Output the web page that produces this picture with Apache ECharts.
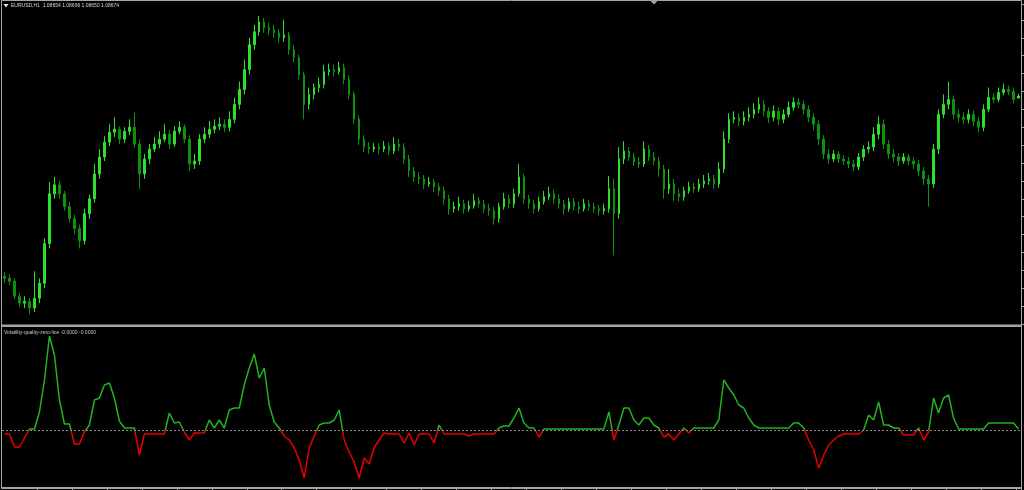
<!DOCTYPE html>
<html>
<head>
<meta charset="utf-8">
<script src="https://cdn.jsdelivr.net/npm/echarts@6/dist/echarts.min.js"></script>
<style>
html,body{margin:0;padding:0;background:#000;}
#c{width:1024px;height:490px;}
</style>
</head>
<body>
<div id="c"></div>
<script>
const symbolName = 'EURUSD,H1';
const indicatorName = 'Volatility-quality-zero-line';
const indicatorValuesText = '-0.0000 -0.0000';

const open = [
1.0686,1.0684,1.0681,1.0666,1.0659,1.0661,1.0654,1.0664,1.0679,1.0719,
1.0769,1.0778,1.0769,1.0756,1.0744,1.0734,1.0722,1.0749,1.0764,1.0789,
1.0806,1.0821,1.0831,1.0834,1.0824,1.0832,1.0836,1.0819,1.0789,1.0804,
1.0814,1.0819,1.0824,1.0829,1.0819,1.0832,1.0836,1.0824,1.0799,1.0802,
1.0824,1.0829,1.0834,1.0837,1.0839,1.0836,1.0844,1.0859,1.0874,1.0894,
1.0919,1.0932,1.0942,1.0936,1.0934,1.0931,1.0926,1.0929,1.0914,1.0906,
1.0889,1.0859,1.0869,1.0876,1.0879,1.0892,1.0894,1.0892,1.0896,1.0884,
1.0869,1.0844,1.0824,1.0816,1.0814,1.0816,1.0814,1.0817,1.0812,1.0819,
1.0816,1.0804,1.0792,1.0786,1.0784,1.0779,1.0781,1.0776,1.0772,1.0764,
1.0754,1.0756,1.0759,1.0754,1.0757,1.0762,1.0759,1.0754,1.0752,1.0744,
1.0756,1.0764,1.0759,1.0769,1.0786,1.0764,1.0759,1.0754,1.0761,1.0766,
1.0769,1.0764,1.0759,1.0754,1.0761,1.0756,1.0754,1.0759,1.0756,1.0754,
1.0752,1.0754,1.0774,1.0749,1.0804,1.0812,1.0806,1.0801,1.0799,1.0814,
1.0806,1.0802,1.0794,1.0774,1.0779,1.0769,1.0766,1.0772,1.0776,1.0774,
1.0779,1.0782,1.0784,1.0779,1.0794,1.0824,1.0844,1.0846,1.0842,1.0846,
1.0849,1.0854,1.0859,1.0852,1.0846,1.0852,1.0844,1.0849,1.0856,1.0861,
1.0859,1.0854,1.0846,1.0839,1.0824,1.0809,1.0804,1.0809,1.0804,1.0802,
1.0799,1.0796,1.0806,1.0814,1.0816,1.0829,1.0839,1.0819,1.0809,1.0806,
1.0802,1.0806,1.0802,1.0799,1.0792,1.0784,1.0779,1.0814,1.0849,1.0859,
1.0864,1.0849,1.0846,1.0844,1.0849,1.0842,1.0836,1.0854,1.0866,1.0864,
1.0871,1.0874,1.0872,1.08654];

const close = [
1.0684,1.0681,1.0666,1.0659,1.0661,1.0654,1.0664,1.0679,1.0719,1.0769,
1.0778,1.0769,1.0756,1.0744,1.0734,1.0722,1.0749,1.0764,1.0789,1.0806,
1.0821,1.0831,1.0834,1.0824,1.0832,1.0836,1.0819,1.0789,1.0804,1.0814,
1.0819,1.0824,1.0829,1.0819,1.0832,1.0836,1.0824,1.0799,1.0802,1.0824,
1.0829,1.0834,1.0837,1.0839,1.0836,1.0844,1.0859,1.0874,1.0894,1.0919,
1.0932,1.0942,1.0936,1.0934,1.0931,1.0926,1.0929,1.0914,1.0906,1.0889,
1.0859,1.0869,1.0876,1.0879,1.0892,1.0894,1.0892,1.0896,1.0884,1.0869,
1.0844,1.0824,1.0816,1.0814,1.0816,1.0814,1.0817,1.0812,1.0819,1.0816,
1.0804,1.0792,1.0786,1.0784,1.0779,1.0781,1.0776,1.0772,1.0764,1.0754,
1.0756,1.0759,1.0754,1.0757,1.0762,1.0759,1.0754,1.0752,1.0744,1.0756,
1.0764,1.0759,1.0769,1.0786,1.0764,1.0759,1.0754,1.0761,1.0766,1.0769,
1.0764,1.0759,1.0754,1.0761,1.0756,1.0754,1.0759,1.0756,1.0754,1.0752,
1.0754,1.0774,1.0749,1.0804,1.0812,1.0806,1.0801,1.0799,1.0814,1.0806,
1.0802,1.0794,1.0774,1.0779,1.0769,1.0766,1.0772,1.0776,1.0774,1.0779,
1.0782,1.0784,1.0779,1.0794,1.0824,1.0844,1.0846,1.0842,1.0846,1.0849,
1.0854,1.0859,1.0852,1.0846,1.0852,1.0844,1.0849,1.0856,1.0861,1.0859,
1.0854,1.0846,1.0839,1.0824,1.0809,1.0804,1.0809,1.0804,1.0802,1.0799,
1.0796,1.0806,1.0814,1.0816,1.0829,1.0839,1.0819,1.0809,1.0806,1.0802,
1.0806,1.0802,1.0799,1.0792,1.0784,1.0779,1.0814,1.0849,1.0859,1.0864,
1.0849,1.0846,1.0844,1.0849,1.0842,1.0836,1.0854,1.0866,1.0864,1.0871,
1.0874,1.0872,1.0864,1.08674];

const high = [
1.0690,1.0688,1.0684,1.0669,1.0666,1.0664,1.0691,1.0684,1.0724,1.0781,
1.0786,1.0782,1.0772,1.0761,1.0748,1.0738,1.0754,1.0768,1.0799,1.0814,
1.0827,1.0839,1.0846,1.0837,1.0836,1.0844,1.0851,1.0824,1.0809,1.0819,
1.0826,1.0832,1.0839,1.0833,1.0837,1.0842,1.0839,1.0828,1.0809,1.0829,
1.0836,1.0842,1.0844,1.0846,1.0844,1.0852,1.0866,1.0882,1.0904,1.0926,
1.0939,1.0948,1.0946,1.0941,1.0939,1.0935,1.0944,1.0932,1.0919,1.0909,
1.0892,1.0876,1.0880,1.0886,1.0899,1.0900,1.0899,1.0902,1.0900,1.0888,
1.0872,1.0848,1.0828,1.0821,1.0820,1.0820,1.0822,1.0821,1.0826,1.0824,
1.0820,1.0808,1.0796,1.0791,1.0788,1.0786,1.0784,1.0780,1.0776,1.0768,
1.0761,1.0766,1.0763,1.0762,1.0769,1.0766,1.0763,1.0759,1.0756,1.0760,
1.0770,1.0768,1.0774,1.0799,1.0789,1.0768,1.0763,1.0766,1.0772,1.0776,
1.0773,1.0768,1.0763,1.0765,1.0765,1.0761,1.0764,1.0763,1.0760,1.0758,
1.0759,1.0787,1.0784,1.0816,1.0822,1.0816,1.0810,1.0806,1.0822,1.0818,
1.0811,1.0806,1.0798,1.0794,1.0784,1.0774,1.0776,1.0781,1.0780,1.0784,
1.0788,1.0790,1.0788,1.0801,1.0832,1.0850,1.0852,1.0850,1.0852,1.0856,
1.0860,1.0866,1.0863,1.0856,1.0858,1.0856,1.0854,1.0862,1.0866,1.0865,
1.0863,1.0858,1.0850,1.0843,1.0828,1.0814,1.0813,1.0812,1.0808,1.0806,
1.0803,1.0810,1.0818,1.0822,1.0836,1.0847,1.0844,1.0823,1.0814,1.0810,
1.0810,1.0809,1.0806,1.0803,1.0796,1.0788,1.0819,1.0854,1.0869,1.0882,
1.0868,1.0854,1.0851,1.0854,1.0853,1.0846,1.0859,1.0876,1.0870,1.0876,
1.0880,1.0878,1.0876,1.08696];

const low = [
1.0680,1.0677,1.0663,1.0655,1.0654,1.0648,1.0650,1.0659,1.0674,1.0714,
1.0764,1.0764,1.0752,1.0740,1.0728,1.0714,1.0718,1.0744,1.0760,1.0784,
1.0802,1.0817,1.0826,1.0819,1.0820,1.0828,1.0815,1.0774,1.0784,1.0799,
1.0811,1.0815,1.0821,1.0814,1.0816,1.0829,1.0820,1.0792,1.0794,1.0798,
1.0820,1.0825,1.0830,1.0833,1.0831,1.0832,1.0840,1.0854,1.0869,1.0889,
1.0914,1.0928,1.0931,1.0929,1.0926,1.0921,1.0922,1.0909,1.0901,1.0884,
1.0844,1.0854,1.0864,1.0871,1.0875,1.0888,1.0887,1.0889,1.0879,1.0864,
1.0839,1.0818,1.0811,1.0809,1.0811,1.0809,1.0811,1.0808,1.0809,1.0812,
1.0799,1.0786,1.0781,1.0779,1.0774,1.0776,1.0771,1.0767,1.0758,1.0748,
1.0750,1.0752,1.0749,1.0751,1.0754,1.0755,1.0750,1.0747,1.0738,1.0740,
1.0753,1.0754,1.0755,1.0766,1.0759,1.0754,1.0749,1.0751,1.0758,1.0763,
1.0759,1.0754,1.0748,1.0751,1.0752,1.0749,1.0751,1.0752,1.0750,1.0747,
1.0748,1.0750,1.0707,1.0744,1.0799,1.0802,1.0797,1.0795,1.0796,1.0802,
1.0798,1.0786,1.0764,1.0769,1.0762,1.0761,1.0762,1.0769,1.0770,1.0771,
1.0775,1.0778,1.0774,1.0775,1.0790,1.0820,1.0840,1.0837,1.0838,1.0842,
1.0845,1.0850,1.0847,1.0840,1.0842,1.0838,1.0840,1.0846,1.0853,1.0855,
1.0849,1.0841,1.0833,1.0818,1.0804,1.0799,1.0801,1.0800,1.0798,1.0795,
1.0792,1.0793,1.0802,1.0810,1.0812,1.0824,1.0814,1.0804,1.0801,1.0797,
1.0799,1.0798,1.0794,1.0787,1.0778,1.0756,1.0775,1.0809,1.0845,1.0854,
1.0844,1.0841,1.0839,1.0840,1.0837,1.0831,1.0832,1.0851,1.0860,1.0861,
1.0868,1.0868,1.0860,1.08650];

const vq = [
-0.0004,-0.0004,-0.0017,-0.0017,-0.0008,0.0001,0.0001,0.0018,0.0050,0.0094,
0.0075,0.0030,0.0006,0.0006,-0.0014,-0.0014,-0.0002,0.0005,0.0030,0.0032,
0.0045,0.0047,0.0032,0.0009,0.0002,0.0002,0.0002,-0.0025,-0.0004,-0.0004,
-0.0004,-0.0004,-0.0004,0.0017,0.0007,0.0008,-0.0002,-0.0010,-0.0003,-0.0003,
-0.0003,0.0010,0.0002,0.0010,0.0002,0.0020,0.0022,0.0022,0.0045,0.0062,
0.0076,0.0052,0.0062,0.0025,0.0008,0.0002,-0.0006,-0.0010,-0.0018,-0.0030,
-0.0048,-0.0018,-0.0006,0.0005,0.0007,0.0007,0.0010,0.0020,-0.0010,-0.0022,
-0.0032,-0.0048,-0.0028,-0.0034,-0.0018,-0.0010,-0.0003,-0.0004,-0.0004,-0.0004,
-0.0013,-0.0003,-0.0015,-0.0004,-0.0004,-0.0004,-0.0013,0.0005,-0.0004,-0.0004,
-0.0004,-0.0004,-0.0004,-0.0006,-0.0004,-0.0004,-0.0004,-0.0004,-0.0004,0.0002,
0.0004,0.0004,0.0012,0.0022,0.0007,0.0002,0.0002,-0.0007,0.0001,0.0001,
0.0001,0.0001,0.0001,0.0001,0.0001,0.0001,0.0001,0.0001,0.0001,0.0001,
0.0001,0.0018,-0.0010,0.0005,0.0022,0.0022,0.0010,0.0005,0.0012,0.0012,
0.0005,0.0002,-0.0007,-0.0004,-0.0010,-0.0004,0.0002,-0.0003,0.0002,0.0002,
0.0002,0.0002,0.0002,0.0010,0.0050,0.0042,0.0035,0.0025,0.0022,0.0012,
0.0005,0.0002,0.0002,0.0002,0.0002,0.0002,0.0002,0.0002,0.0007,0.0007,
0.0002,-0.0010,-0.0020,-0.0038,-0.0025,-0.0015,-0.0010,-0.0006,-0.0004,-0.0004,
-0.0004,-0.0004,0.0000,0.0015,0.0010,0.0028,0.0005,0.0005,0.0002,0.0002,
-0.0005,-0.0005,-0.0005,0.0002,-0.0010,-0.0002,0.0032,0.0017,0.0032,0.0035,
0.0012,0.0001,0.0001,0.0001,0.0001,0.0001,0.0001,0.0007,0.0007,0.0007,
0.0007,0.0007,0.0007,0.0001];

const categories = close.map((_, i) => String(i));
const candles = open.map((o, i) => [o, close[i], low[i], high[i]]);
const last = close.length - 1;
const titleText = symbolName + '  ' + [open[last], high[last], low[last], close[last]].map(v => v.toFixed(5)).join(' ');

const FRAME = '#a4a4a4';
const chart = echarts.init(document.getElementById('c'), null, {renderer: 'canvas'});
chart.setOption({
  backgroundColor: '#000000',
  animation: false,
  grid: [
    {left: 2, right: 3, top: 4, height: 320},
    {left: 2, right: 3, top: 328, height: 159}
  ],
  xAxis: [
    {type: 'category', gridIndex: 0, data: categories, boundaryGap: true,
     axisLine: {show: false, onZero: false}, axisTick: {show: false}, axisLabel: {show: false}, splitLine: {show: false}},
    {type: 'category', gridIndex: 1, data: categories, boundaryGap: true, position: 'bottom',
     axisLine: {show: true, onZero: false, lineStyle: {color: FRAME, width: 1}},
     axisTick: {show: true, length: 3, interval: i => i % 7 === 0 && i > 0, lineStyle: {color: FRAME}},
     axisLabel: {show: false}, splitLine: {show: false}}
  ],
  yAxis: [
    {type: 'value', gridIndex: 0, position: 'right', min: 1.0638, max: 1.0960, interval: 0.0018, scale: true,
     axisLine: {show: true, lineStyle: {color: FRAME}}, axisTick: {show: true, length: 3, lineStyle: {color: FRAME}},
     axisLabel: {show: false}, splitLine: {show: false}},
    {type: 'value', gridIndex: 1, position: 'right', min: -0.0057, max: 0.0102,
     axisLine: {show: true, lineStyle: {color: FRAME}}, axisTick: {show: false},
     axisLabel: {show: false}, splitLine: {show: false}}
  ],
  visualMap: {
    show: false, type: 'piecewise', seriesIndex: 1, dimension: 1,
    pieces: [{gt: 0, lte: 1, color: '#22b222'}, {gt: -1, lte: 0, color: '#e80000'}]
  },
  series: [
    {type: 'candlestick', xAxisIndex: 0, yAxisIndex: 0, data: candles, barWidth: 2,
     itemStyle: {color: '#2ee02e', color0: '#0e920e', borderColor: '#2ee02e', borderColor0: '#0e920e', borderWidth: 1}},
    {type: 'line', xAxisIndex: 1, yAxisIndex: 1, data: vq, showSymbol: false, symbol: 'none',
     lineStyle: {width: 1.5},
     markLine: {silent: true, symbol: 'none', label: {show: false},
       lineStyle: {color: '#8a8a8a', type: [2, 2], width: 1},
       data: [{yAxis: 0}]}}
  ],
  graphic: [
    {type: 'rect', silent: true, z: 100, shape: {x: 1.5, y: 0.5, width: 1020, height: 488},
     style: {fill: 'none', stroke: FRAME, lineWidth: 1}},
    {type: 'rect', silent: true, z: 100, shape: {x: 1.5, y: 324.5, width: 1020, height: 2.5},
     style: {fill: FRAME}},
    {type: 'polygon', silent: true, z: 100, shape: {points: [[650.5, 1], [657.5, 1], [654, 4.5]]},
     style: {fill: '#90a4b8'}},
    {type: 'polygon', silent: true, z: 100, shape: {points: [[3.5, 4], [8.5, 4], [6, 7.5]]},
     style: {fill: '#e6e6e6'}},
    {type: 'text', silent: true, z: 100, x: 11, y: 6,
     style: {text: titleText, fill: '#d8d8d8', font: '5px "Liberation Sans"', textVerticalAlign: 'middle'}},
    {type: 'text', silent: true, z: 100, x: 4, y: 332.5,
     style: {text: indicatorName + ' ' + indicatorValuesText, fill: '#c8c8c8', font: '5px "Liberation Sans"', textVerticalAlign: 'middle'}}
  ]
});
</script>
</body>
</html>
